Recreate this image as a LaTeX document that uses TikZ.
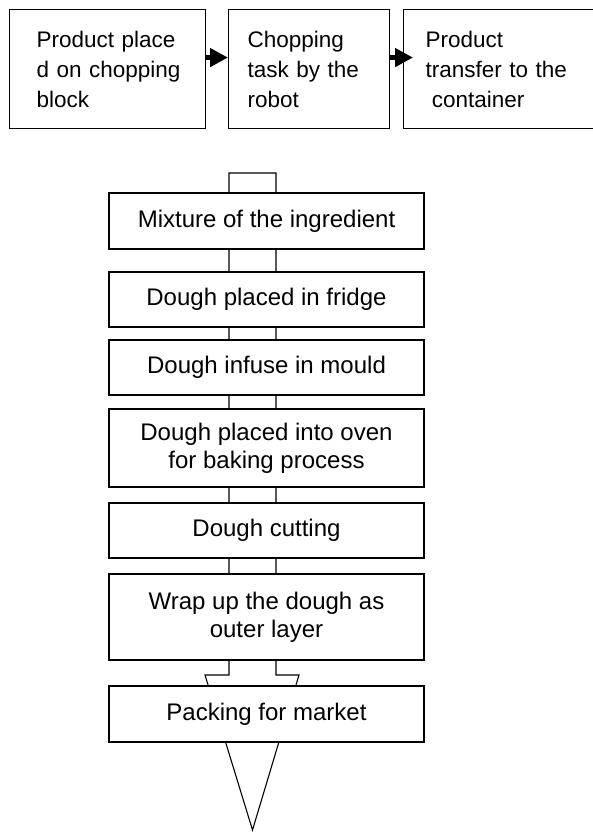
\documentclass[tikz,border=0pt]{standalone}
\usepackage{fontspec}
\setmainfont{Liberation Sans}
\usetikzlibrary{arrows.meta}
\hyphenpenalty=10000
\exhyphenpenalty=10000
\newcommand{\indA}{\hspace*{27pt}}
\newcommand{\indB}{\hspace*{19pt}}
\newcommand{\indC}{\hspace*{22pt}}
\begin{document}
\begin{tikzpicture}[x=1pt,y=-1pt,
  topbox/.style={draw, line width=1.1pt, fill=white, align=left, inner sep=0pt,
    minimum height=119pt, anchor=north west, font=\fontsize{22.5}{30}\selectfont},
  flowbox/.style={draw, line width=1.1pt, fill=white, align=center, inner sep=0pt,
    minimum width=315pt, font=\fontsize{24}{28}\selectfont},
  thickarrow/.style={line width=5pt, -{Triangle[length=18pt 0 0, width=18pt 0 0]}},
  blockarrow/.style={draw, line width=1.1pt, fill=white, line join=miter},
]
\useasboundingbox (0,0) rectangle (592,840);

% top row
\node[topbox, text width=196pt] (b1) at (9,9) {\indA Product place\\\indA d on chopping\\\indA block};
\node[topbox, text width=161pt] (b2) at (228,9) {\indB Chopping\\\indB task by the\\\indB robot};
\node[topbox, text width=214pt] (b3) at (403,9) {\indC Product\\\indC transfer to the\\\indC\hspace*{0.28em}container};
\draw[thickarrow] ([yshift=11.5pt]b1.east) -- ([yshift=11.5pt]b2.west);
\draw[thickarrow] ([yshift=11.5pt]b2.east) -- ([yshift=11.5pt,xshift=10pt]b3.west);

% block arrow behind the flow
\coordinate (sl) at (229,173);
\coordinate (sr) at (276,173);
\coordinate (tip) at (252.5,830);
\draw[blockarrow] (sl) -- (sr) -- (276,675) -- (299,675) -- (tip) -- (205,675) -- (229,675) -- cycle;

% flow boxes
\node[flowbox, minimum height=56pt] (f1) at (266.5,221) {Mixture of the ingredient};
\node[flowbox, minimum height=55pt] (f2) at (266.5,299.5) {Dough placed in fridge};
\node[flowbox, minimum height=55pt] (f3) at (266.5,367.5) {Dough infuse in mould};
\node[flowbox, minimum height=78pt] (f4) at (266.5,448) {Dough placed into oven\\for baking process};
\node[flowbox, minimum height=55pt] (f5) at (266.5,530.5) {Dough cutting};
\node[flowbox, minimum height=86pt] (f6) at (266.5,617) {Wrap up the dough as\\outer layer};
\node[flowbox, minimum height=56pt] (f7) at (266.5,714) {Packing for market};
\end{tikzpicture}
\end{document}
